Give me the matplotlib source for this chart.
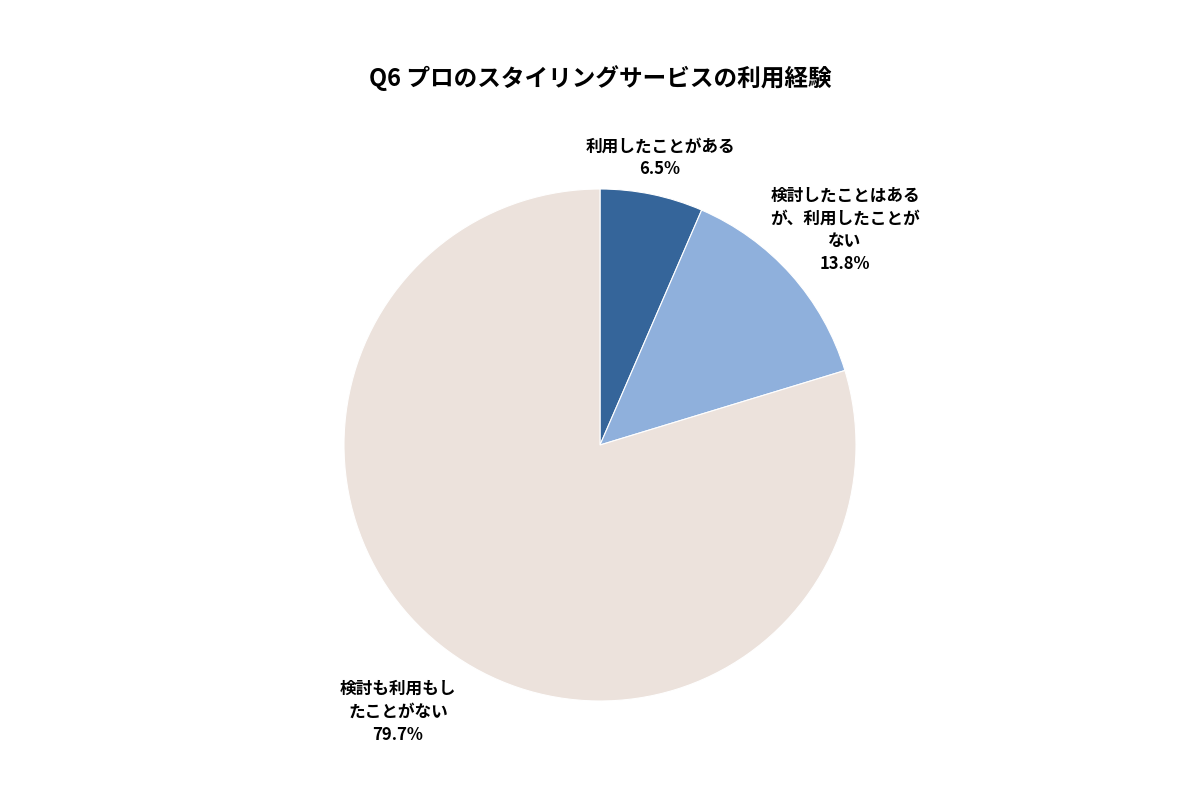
import matplotlib.pyplot as plt

plt.rcParams['font.family'] = ['Noto Sans CJK JP', 'DejaVu Sans']

labels = ["利用したことがある", "検討したことはある\nが、利用したことが\nない", "検討も利用もし\nたことがない"]
values = [6.5, 13.8, 79.7]
colors = ["#35659a", "#8fb0dc", "#ece2dc"]

fig = plt.figure(figsize=(12, 8), dpi=100)
ax = fig.add_axes([344 / 1200, 99 / 800, 512 / 1200, 512 / 800])
ax.pie(values, colors=colors, startangle=90, counterclock=False, radius=1,
       wedgeprops=dict(edgecolor="white", linewidth=0.8))
ax.set_xlim(-1, 1)
ax.set_ylim(-1, 1)
ax.set_aspect("equal")

fig.text(0.5, 1 - 78 / 800, "Q6 プロのスタイリングサービスの利用経験",
         ha="center", va="center", fontsize=17, fontweight="bold")

# ラベル位置（ピクセル）
label_pos = [(660, 158), (845, 230), (398, 712)]
for (x, y), lab, v in zip(label_pos, labels, values):
    fig.text(x / 1200, 1 - y / 800, f"{lab}\n{v}%", ha="center", va="center",
             fontsize=12, fontweight="bold", linespacing=1.35)

fig.savefig("out.png")
